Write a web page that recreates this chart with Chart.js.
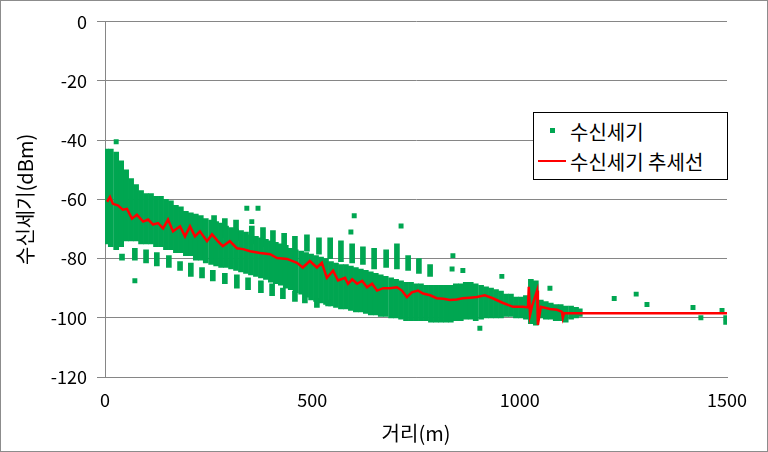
<!DOCTYPE html>
<html>
<head>
<meta charset="utf-8">
<script src="https://cdn.jsdelivr.net/npm/chart.js@4"></script>
<style>
  body { margin: 0; background: #fff; }
  #wrap { position: relative; width: 768px; height: 452px; border: 1px solid #8c8c8c; box-sizing: border-box; }
  #legend { position: absolute; left: 532px; top: 111px; width: 195px; height: 68px; border: 1px solid #000;
            box-sizing: border-box; background: #fff; font-family: "Noto Sans CJK KR", sans-serif; font-size: 20px; color: #000; }
  #legend .txt { position: absolute; left: 36px; line-height: 1; transform: translateY(-50%); white-space: nowrap; }
  #legend .dot { position: absolute; left: 16px; top: 15px; width: 5px; height: 5px; background: #00a651; }
  #legend .ln { position: absolute; left: 4px; top: 47px; width: 28px; height: 2px; background: #ff0000; }
</style>
</head>
<body>
<div id="wrap">
  <canvas id="myChart" width="766" height="450"></canvas>
  <div id="legend">
    <div class="dot"></div><span class="txt" style="top:19px">수신세기</span>
    <div class="ln"></div><span class="txt" style="top:49px">수신세기 추세선</span>
  </div>
</div>
<script>
// dense band of readings: distance (m), lowest and highest level (dBm) in each column
const denseX = [2,14,27,39,51,63,75,87,99,111,123,135,147,159,171,183,195,207,219,231,
  243,256,268,280,292,304,316,328,340,352,364,376,388,400,412,424,436,448,460,473,
  485,497,509,521,533,545,557,569,581,593,605,617,629,641,653,665,677,690,702,714,
  726,738,750,762,774,786,798,810,822,834,846,858,870,882,894,907,919,931,943,955,
  967,979,991,1003,1015,1027,1039,1051,1063,1075,1087,1099,1111,1124,1136,1145]
const denseHi = [-43,-43,-44,-47,-50,-53,-55,-57,-58,-58,
  -59,-59,-60,-60.5,-62,-62.5,-64,-64.5,-65,-65.5,
  -66.5,-67,-67.5,-68,-69,-69.5,-70,-70.5,-71,-72,
  -72.5,-73,-73.5,-74,-74.5,-75,-75.5,-76.5,-77,-77.5,
  -78,-78.5,-79,-79.5,-80,-81,-81.5,-82,-82,-82.5,
  -83,-83.5,-84,-84.5,-85,-85.5,-86,-86.5,-87,-87.5,
  -88,-88,-88.5,-88.5,-89,-89,-89,-89,-89,-89,
  -88.5,-88.5,-88,-88,-88.5,-89,-89.5,-90,-90.5,-91,
  -92,-92,-93,-93,-92.5,-87,-87.5,-94,-94.5,-95,
  -95.5,-95.5,-96,-96,-96.5,-97]
const denseLo = [-75,-76,-77,-76,-74,-74,-74,-75,-75,-75,
  -76,-76,-77,-77,-78,-78,-79,-79,-80.5,-80.5,
  -81.5,-82,-82.5,-83,-83,-83.5,-84,-84.5,-85,-85.5,
  -86,-86.5,-87,-88,-88.5,-89,-90,-90.5,-91.5,-92,
  -93,-94,-94.5,-95,-95.5,-96,-96.5,-97,-97,-97.5,
  -98,-98,-98.5,-99,-99,-99.5,-99.5,-100,-100,-100.5,
  -101,-101,-101,-101,-101,-101.5,-101.5,-101.5,-101.5,-101.5,
  -101,-101,-100.5,-100.5,-101,-100.5,-100,-100,-100,-100,
  -99.5,-99.5,-100,-100,-100.5,-102,-102.5,-100,-100.5,-100.5,
  -101,-101,-101.5,-100.5,-100,-99.5]

// upper columns standing above the band
const upperX  = [263,289,316,354,381,405,432,458,487,516,543,569,596,622,649,678,704,731,757,784]
const upperHi = [-65.5,-66.5,-67,-69,-69.5,-70.5,-71.5,-72.5,-72,-73,-73,-74,-75,-76,-76.5,-77,-75,-79,-80,-82]
const upperLo = [-72,-73,-74,-75,-76,-77,-78,-79,-77.5,-78.5,-80,-81,-81.5,-82,-83.5,-83,-83.5,-84,-85,-86]

// lower columns hanging under the band
const tailX  = [41,72,99,125,154,181,207,234,260,289,318,345,376,403,429,458,482,511,538]
const tailHi = [-78.5,-76.5,-77,-78,-79,-81,-81.5,-83,-84,-85,-85.5,-86.5,-87.5,-88.5,-90,-91,-92,-93.5,-94]
const tailLo = [-80.5,-80.5,-81.5,-82.5,-83,-84,-86,-86.5,-87.5,-88.5,-90,-90.5,-91.5,-92.5,-93.5,-94.5,-95,-96.5,-96]

// single scattered readings
const outX = [27,72,342,354,369,593,601,714,837,839,863,904,957,1073,1228,1281,1307,1418,1437,1488,1497,1497]
const outY = [-40.5,-87.5,-63,-67.5,-63,-71,-65.5,-69,-83.5,-79,-84,-103.5,-86,-90,-93.5,-92,-95.5,-96.5,-100,-97.5,-100,-101.5]

// trend line
const trendX = [5,12,19,31,43,53,65,77,92,104,116,128,140,152,164,181,193,205,217,229,
  246,258,272,284,301,318,333,350,374,398,415,439,463,477,494,511,523,535,550,562,
  579,586,596,608,620,632,644,656,671,687,704,716,728,740,755,767,784,800,816,832,
  848,863,880,897,916,935,960,984,1008,1020,1022,1025,1030,1042,1044,1051,1073,1090,1102,1104,
  1107,1145,1500]
const trendY = [-60.8,-59.2,-61.5,-62,-63.5,-63.2,-66.5,-65.2,-67.5,-66.8,-68.5,-68,-69.8,-66.8,-70.8,-69.1,-72.5,-69.1,-72.5,-70.8,
  -74.1,-71.8,-74.1,-75.8,-74.1,-76.5,-76.8,-77.5,-78.1,-78.5,-79.8,-80.1,-81.4,-83,-80.8,-83,-81.4,-86.5,-84.1,-87.4,
  -86.5,-88.5,-87,-88.5,-87.5,-89.7,-88.5,-90.8,-90,-90,-89.7,-90.8,-93,-91.4,-90.8,-91.8,-92.4,-93.4,-93.6,-94,
  -93.8,-93.4,-93.2,-93,-92.4,-93.4,-95,-96.3,-96.3,-96.5,-89.5,-99,-96,-90.8,-102.4,-96.3,-97,-97.3,-98,-100,
  -98.5,-98.5,-98.5]

const xTicks = [0, 500, 1000, 1500]
const yTicks = [-120, -100, -80, -60, -40, -20, 0]

const green = '#00a651'
const font = '"Noto Sans CJK KR", sans-serif'

function columns(xs, lo, hi) {
    return xs.map((x, i) => ({ x: x, y: [lo[i], hi[i]] }))
}

const bars = columns(denseX, denseLo, denseHi)
    .concat(columns(upperX, upperLo, upperHi))
    .concat(columns(tailX, tailLo, tailHi))

const ctx = document.getElementById('myChart')

new Chart(ctx, {
    type: 'scatter',
    data: {
        datasets: [
            {
                type: 'bar',
                label: '수신세기',
                data: bars,
                backgroundColor: green,
                borderWidth: 0,
                barThickness: 5,
                order: 2
            },
            {
                type: 'scatter',
                label: '수신세기',
                data: outX.map((x, i) => ({ x: x, y: outY[i] })),
                pointStyle: 'rect',
                pointRadius: 3.5,
                backgroundColor: green,
                borderWidth: 0,
                order: 1
            },
            {
                type: 'line',
                label: '수신세기 추세선',
                data: trendX.map((x, i) => ({ x: x, y: trendY[i] })),
                borderColor: '#ff0000',
                borderWidth: 2.5,
                pointRadius: 0,
                tension: 0,
                fill: false,
                order: 0
            }
        ]
    },
    options: {
        responsive: false,
        animation: false,
        layout: { padding: { top: 16, right: 40, left: 0, bottom: 0 } },
        plugins: {
            legend: { display: false },
            tooltip: { enabled: false }
        },
        scales: {
            x: {
                type: 'linear',
                offset: false,
                min: xTicks[0],
                max: xTicks[xTicks.length - 1],
                afterBuildTicks: s => { s.ticks = xTicks.map(v => ({ value: v })) },
                ticks: { color: '#000', font: { family: font, size: 18 }, padding: 12, maxRotation: 0,
                         callback: v => String(v) },
                grid: { drawOnChartArea: false, drawTicks: false, offset: false },
                border: { color: '#868686' },
                title: { display: true, text: '거리(m)', color: '#000', font: { family: font, size: 20 }, padding: { top: 0, bottom: 6 } },
                afterFit: s => { s.height = 74 }
            },
            y: {
                min: yTicks[0],
                max: yTicks[yTicks.length - 1],
                afterBuildTicks: s => { s.ticks = yTicks.map(v => ({ value: v })) },
                ticks: { color: '#000', font: { family: font, size: 18 }, padding: 10,
                         callback: v => String(v) },
                grid: { color: '#868686', tickLength: 8 },
                border: { color: '#868686' },
                title: { display: true, text: '수신세기(dBm)', color: '#000', font: { family: font, size: 20 }, padding: { top: 12, bottom: 0 } },
                afterFit: s => { s.width = 104 }
            }
        }
    }
})
</script>
</body>
</html>
